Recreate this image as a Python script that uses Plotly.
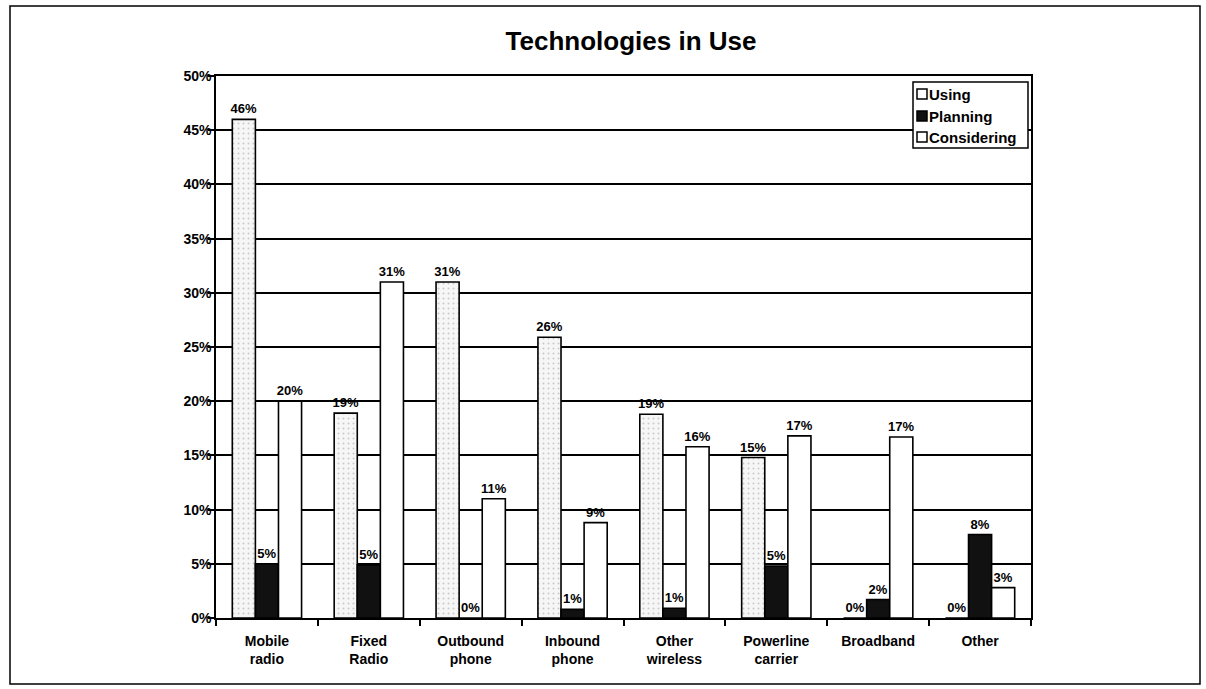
import plotly.graph_objects as go

categories = ["Mobile<br>radio", "Fixed<br>Radio", "Outbound<br>phone", "Inbound<br>phone",
              "Other<br>wireless", "Powerline<br>carrier", "Broadband", "Other"]
series_names = ["Using", "Planning", "Considering"]
using = [46.0, 18.9, 31.0, 25.9, 18.8, 14.8, 0.0, 0.0]
planning = [5.0, 4.9, 0.0, 0.8, 0.9, 4.8, 1.7, 7.7]
considering = [20.0, 31.0, 11.0, 8.8, 15.8, 16.8, 16.7, 2.8]
y_ticks = [0, 5, 10, 15, 20, 25, 30, 35, 40, 45, 50]

FONT = "Arial, Liberation Sans, sans-serif"
L, R, T, B = 216, 175, 76, 71
W, H = 1206, 689
PW, PH = W - L - R, H - T - B


def px_x(x):
    return (x - L) / PW


def px_y(y):
    return (H - B - y) / PH


fig = go.Figure()

styles = {
    "Using": dict(color="#f6f6f6",
                  pattern=dict(shape=".", fgcolor="#9a9a9a", bgcolor="#f6f6f6", size=5, solidity=0.12)),
    "Planning": dict(color="#111111"),
    "Considering": dict(color="white"),
}

for name, vals in zip(series_names, [using, planning, considering]):
    marker = dict(line=dict(color="black", width=1.6), **styles[name])
    fig.add_trace(go.Bar(
        name=name, x=categories, y=vals, marker=marker,
        texttemplate="<b>%{y:.0f}%</b>", textposition="outside",
        textfont=dict(family=FONT, size=13, color="black"),
        constraintext="none", cliponaxis=False, showlegend=False,
    ))

fig.update_layout(
    width=W, height=H,
    margin=dict(l=L, r=R, t=T, b=B),
    paper_bgcolor="white", plot_bgcolor="white",
    barmode="group", bargap=0.32, bargroupgap=0,
    font=dict(family=FONT, size=14, color="black"),
    title=dict(text="<b>Technologies in Use</b>", x=(631 / W), xanchor="center",
               y=1 - 41 / H, yanchor="middle",
               font=dict(family=FONT, size=26, color="black")),
    showlegend=False,
)
fig.update_yaxes(
    range=[0, 50], tickvals=y_ticks, ticktext=[f"<b>{v}%</b>" for v in y_ticks],
    showgrid=True, gridcolor="black", gridwidth=1.5,
    showline=True, linecolor="black", linewidth=1.5, mirror=True,
    ticks="outside", ticklen=6, tickcolor="black", tickwidth=1.5,
    tickfont=dict(family=FONT, size=14, color="black"),
    ticklabelstandoff=-6,
    zeroline=False, fixedrange=True,
)
fig.update_xaxes(
    tickvals=categories, ticktext=[f"<b>{c}</b>" for c in categories],
    showline=True, linecolor="black", linewidth=1.5, mirror=True,
    ticks="outside", tickson="boundaries", ticklen=6, tickcolor="black", tickwidth=1.5,
    tickfont=dict(family=FONT, size=14, color="black"),
    ticklabelstandoff=9, showgrid=False,
)

# legend box (manual, to match the compact original)
fig.add_shape(type="rect", xref="paper", yref="paper",
              x0=px_x(913), x1=px_x(1028), y0=px_y(148), y1=px_y(82),
              line=dict(color="black", width=1.5), fillcolor="white", layer="above")
row_y = [94, 116, 137]
for name, ry in zip(series_names, row_y):
    fig.add_shape(type="rect", xref="paper", yref="paper",
                  x0=px_x(917), x1=px_x(927), y0=px_y(ry + 5), y1=px_y(ry - 5),
                  line=dict(color="black", width=1.5),
                  fillcolor=("#111111" if name == "Planning" else "white"), layer="above")
    fig.add_annotation(xref="paper", yref="paper", x=px_x(927), y=px_y(ry),
                       xanchor="left", yanchor="middle", showarrow=False,
                       text=f"<b>{name}</b>",
                       font=dict(family=FONT, size=15, color="black"))

# outer frame around the whole chart
fig.add_shape(type="rect", xref="paper", yref="paper",
              x0=px_x(10), x1=px_x(1200), y0=px_y(684), y1=px_y(6),
              line=dict(color="black", width=1.5), fillcolor="rgba(0,0,0,0)", layer="above")

fig.write_html("out.html")
